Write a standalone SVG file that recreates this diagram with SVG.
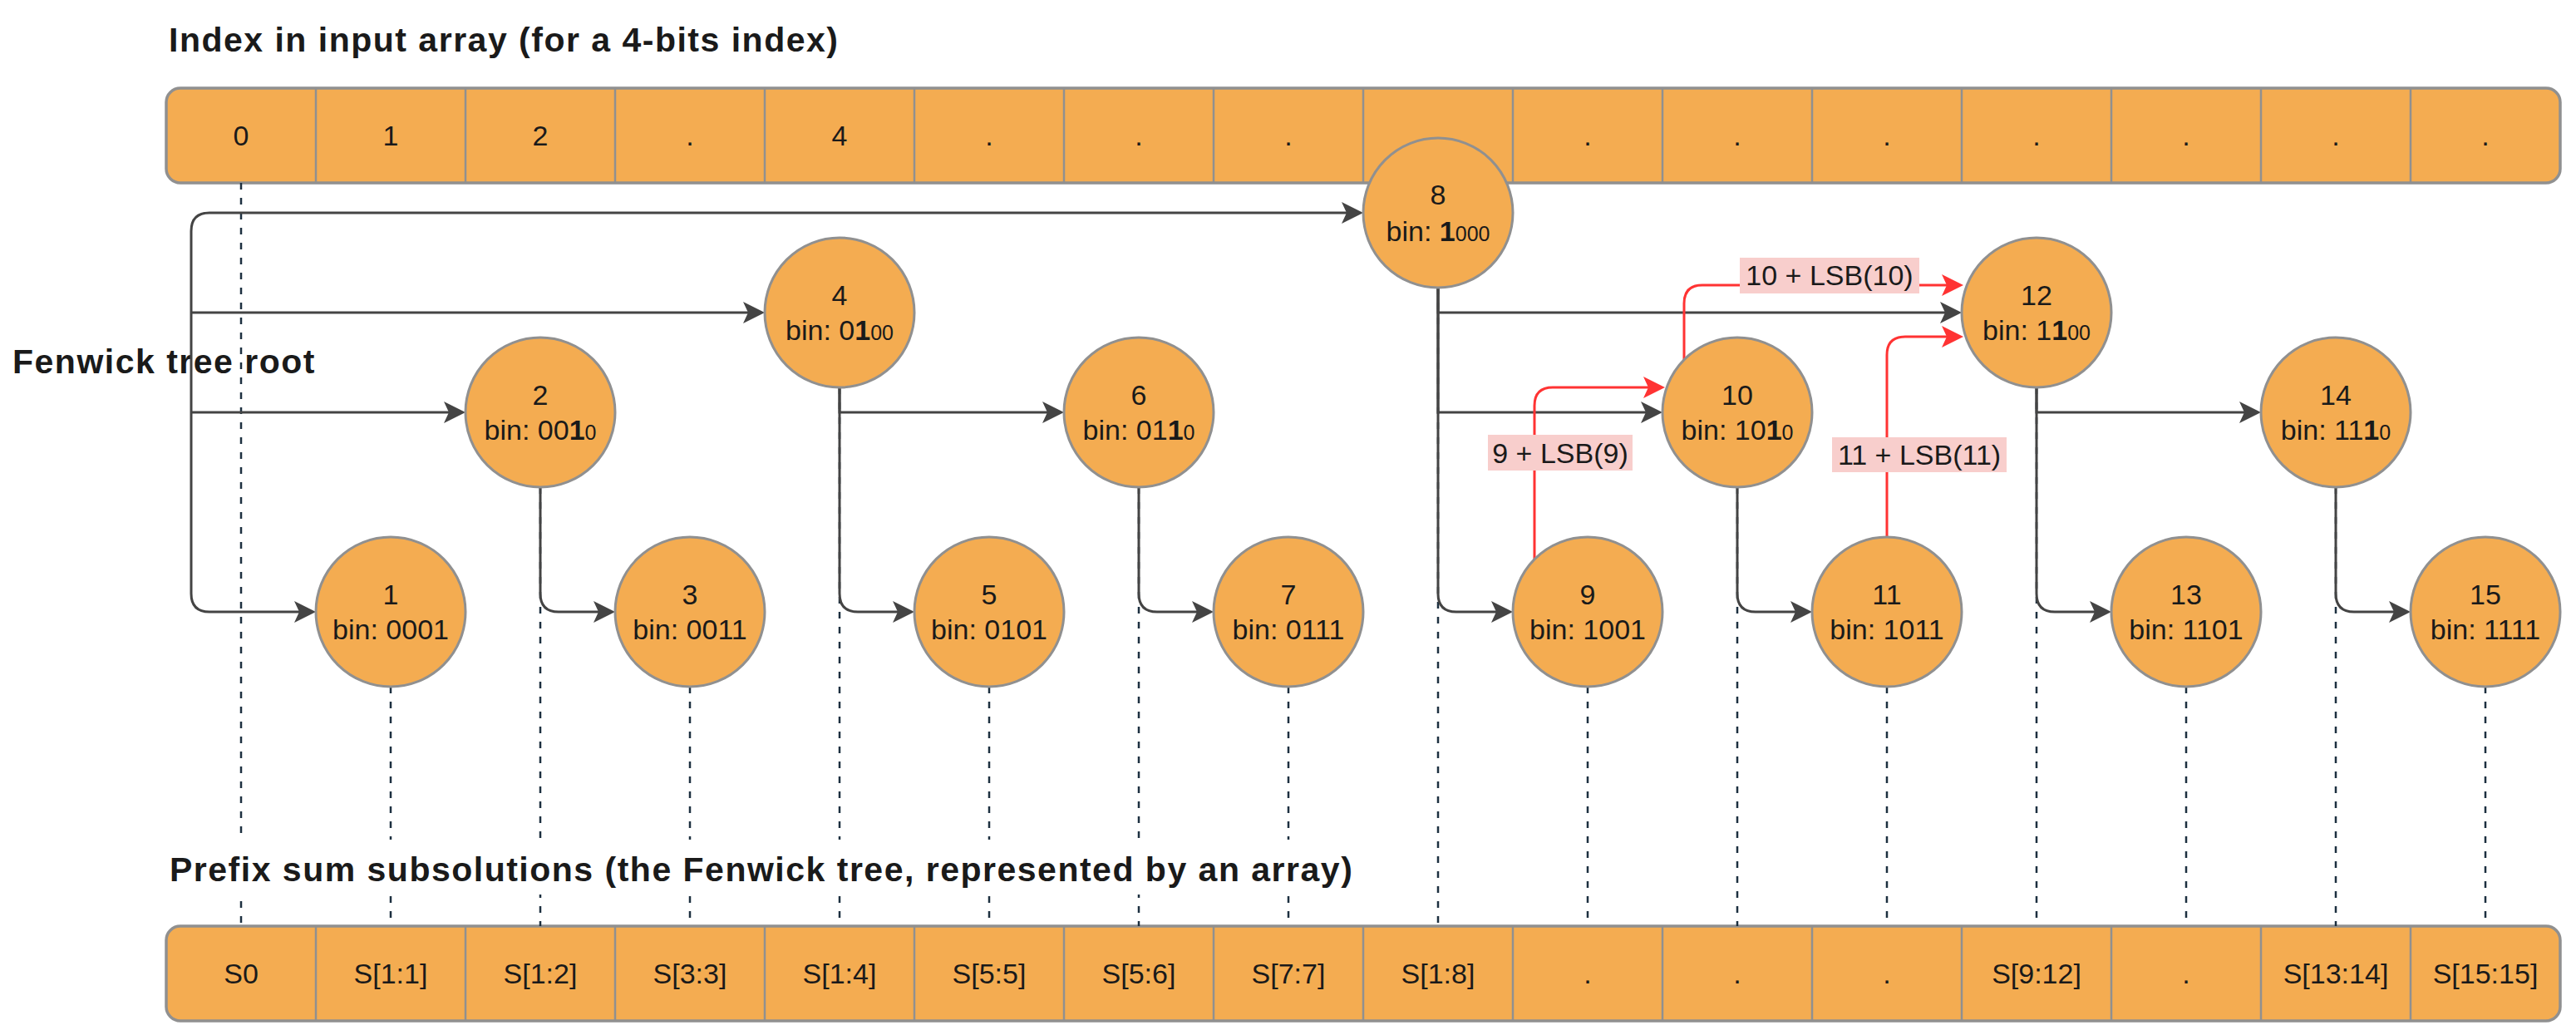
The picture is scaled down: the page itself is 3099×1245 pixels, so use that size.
<svg xmlns="http://www.w3.org/2000/svg" width="3099" height="1245" viewBox="0 0 3099 1245">
<style>
.arr{fill:#F4AC51;stroke:#909090;stroke-width:3.5}
.div{stroke:#909090;stroke-width:2.5}
.node circle{fill:#F4AC51;stroke:#909090;stroke-width:3}
.t{font-family:"Liberation Sans",Arial,sans-serif;font-size:34px;fill:#1a1a1a;text-anchor:middle}
.title{font-family:"Liberation Sans",Arial,sans-serif;font-size:41px;font-weight:bold;fill:#1a1a1a;letter-spacing:1.5px}
.dash{stroke:#1d3040;stroke-width:2.5;stroke-dasharray:8 10;fill:none}
.edge{stroke:#444444;stroke-width:3;fill:none;marker-end:url(#ah)}
.red{stroke:#FF3333;stroke-width:3;fill:none;marker-end:url(#ahr)}
.lbl{fill:#F8CECC}
.sm{font-size:25px}
.b{font-weight:bold}
</style>
<defs>
<marker id="ah" markerUnits="userSpaceOnUse" markerWidth="30" markerHeight="30" viewBox="-8 -15 30 30" refX="0" refY="0" orient="auto"><path d="M20,0 L-6,-13 L0,0 L-6,13 Z" fill="#444444"/></marker>
<marker id="ahr" markerUnits="userSpaceOnUse" markerWidth="30" markerHeight="30" viewBox="-8 -15 30 30" refX="0" refY="0" orient="auto"><path d="M20,0 L-6,-13 L0,0 L-6,13 Z" fill="#FF3333"/></marker>
</defs>
<rect width="3099" height="1245" fill="#ffffff"/>

<text class="title" x="203" y="62">Index in input array (for a 4-bits index)</text>
<text class="title" x="15" y="449">Fenwick tree root</text>

<g id="input-array">
<rect class="arr" x="200" y="106" width="2880" height="114" rx="17"/>
<path class="div" d="M380,106V220M560,106V220M740,106V220M920,106V220M1100,106V220M1280,106V220M1460,106V220M1640,106V220M1820,106V220M2000,106V220M2180,106V220M2360,106V220M2540,106V220M2720,106V220M2900,106V220"/>
<g class="t">
<text x="290" y="175">0</text><text x="470" y="175">1</text><text x="650" y="175">2</text><text x="830" y="175">.</text>
<text x="1010" y="175">4</text><text x="1190" y="175">.</text><text x="1370" y="175">.</text><text x="1550" y="175">.</text>
<text x="1910" y="175">.</text><text x="2090" y="175">.</text><text x="2270" y="175">.</text><text x="2450" y="175">.</text>
<text x="2630" y="175">.</text><text x="2810" y="175">.</text><text x="2990" y="175">.</text>
</g>
</g>

<g id="prefix-array">
<rect class="arr" x="200" y="1114" width="2880" height="114" rx="17"/>
<path class="div" d="M380,1114V1228M560,1114V1228M740,1114V1228M920,1114V1228M1100,1114V1228M1280,1114V1228M1460,1114V1228M1640,1114V1228M1820,1114V1228M2000,1114V1228M2180,1114V1228M2360,1114V1228M2540,1114V1228M2720,1114V1228M2900,1114V1228"/>
<g class="t">
<text x="290" y="1183">S0</text><text x="470" y="1183">S[1:1]</text><text x="650" y="1183">S[1:2]</text><text x="830" y="1183">S[3:3]</text>
<text x="1010" y="1183">S[1:4]</text><text x="1190" y="1183">S[5:5]</text><text x="1370" y="1183">S[5:6]</text><text x="1550" y="1183">S[7:7]</text>
<text x="1730" y="1183">S[1:8]</text><text x="1910" y="1183">.</text><text x="2090" y="1183">.</text><text x="2270" y="1183">.</text>
<text x="2450" y="1183">S[9:12]</text><text x="2630" y="1183">.</text><text x="2810" y="1183">S[13:14]</text><text x="2990" y="1183">S[15:15]</text>
</g>
</g>

<g id="guides">
<path class="dash" d="M290,220V1114M470,826V1114M650,586V1114M830,826V1114M1010,466V1114M1190,826V1114M1370,586V1114M1550,826V1114M1730,346V1114M1910,826V1114M2090,586V1114M2270,826V1114M2450,466V1114M2630,826V1114M2810,586V1114M2990,826V1114"/>
</g>

<g id="prefix-title">
<rect x="200" y="1010" width="1440" height="66" fill="#ffffff"/>
<text class="title" x="204" y="1060">Prefix sum subsolutions (the Fenwick tree, represented by an array)</text>
</g>

<g id="connectors">
<path class="edge" d="M230,278 Q230,256 252,256 L1620,256"/>
<path class="edge" d="M230,376 L900,376"/>
<path class="edge" d="M230,496 L540,496"/>
<path class="edge" d="M230,278 L230,714 Q230,736 252,736 L360,736"/>
<path class="edge" d="M650,586 L650,714 Q650,736 672,736 L720,736"/>
<path class="edge" d="M1010,466 L1010,496 L1260,496"/>
<path class="edge" d="M1010,466 L1010,714 Q1010,736 1032,736 L1080,736"/>
<path class="edge" d="M1370,586 L1370,714 Q1370,736 1392,736 L1440,736"/>
<path class="edge" d="M1730,346 L1730,376 L2340,376"/>
<path class="edge" d="M1730,346 L1730,496 L1980,496"/>
<path class="edge" d="M1730,346 L1730,714 Q1730,736 1752,736 L1800,736"/>
<path class="edge" d="M2090,586 L2090,714 Q2090,736 2112,736 L2160,736"/>
<path class="edge" d="M2450,466 L2450,496 L2700,496"/>
<path class="edge" d="M2450,466 L2450,714 Q2450,736 2472,736 L2520,736"/>
<path class="edge" d="M2810,586 L2810,714 Q2810,736 2832,736 L2880,736"/>
<path class="red" d="M1846,673 L1846,488 Q1846,466 1868,466 L1983,466"/>
<path class="red" d="M2026,433 L2026,365 Q2026,343 2048,343 L2342,343"/>
<path class="red" d="M2270,646 L2270,427 Q2270,405 2292,405 L2342,405"/>
<rect class="lbl" x="1790" y="523" width="174" height="43"/>
<text class="t" x="1877" y="557">9 + LSB(9)</text>
<rect class="lbl" x="2093" y="310" width="216" height="43"/>
<text class="t" x="2201" y="343">10 + LSB(10)</text>
<rect class="lbl" x="2204" y="526" width="210" height="42"/>
<text class="t" x="2309" y="559">11 + LSB(11)</text>
</g>

<g id="node-1" class="node"><circle cx="470" cy="736" r="90"/><text class="t" x="470" y="727">1</text><text class="t" x="470" y="769">bin: 0001</text></g>
<g id="node-2" class="node"><circle cx="650" cy="496" r="90"/><text class="t" x="650" y="487">2</text><text class="t" x="650" y="529">bin: 00<tspan class="b">1</tspan><tspan class="sm">0</tspan></text></g>
<g id="node-3" class="node"><circle cx="830" cy="736" r="90"/><text class="t" x="830" y="727">3</text><text class="t" x="830" y="769">bin: 0011</text></g>
<g id="node-4" class="node"><circle cx="1010" cy="376" r="90"/><text class="t" x="1010" y="367">4</text><text class="t" x="1010" y="409">bin: 0<tspan class="b">1</tspan><tspan class="sm">00</tspan></text></g>
<g id="node-5" class="node"><circle cx="1190" cy="736" r="90"/><text class="t" x="1190" y="727">5</text><text class="t" x="1190" y="769">bin: 0101</text></g>
<g id="node-6" class="node"><circle cx="1370" cy="496" r="90"/><text class="t" x="1370" y="487">6</text><text class="t" x="1370" y="529">bin: 01<tspan class="b">1</tspan><tspan class="sm">0</tspan></text></g>
<g id="node-7" class="node"><circle cx="1550" cy="736" r="90"/><text class="t" x="1550" y="727">7</text><text class="t" x="1550" y="769">bin: 0111</text></g>
<g id="node-8" class="node"><circle cx="1730" cy="256" r="90"/><text class="t" x="1730" y="246">8</text><text class="t" x="1730" y="290">bin: <tspan class="b">1</tspan><tspan class="sm">000</tspan></text></g>
<g id="node-9" class="node"><circle cx="1910" cy="736" r="90"/><text class="t" x="1910" y="727">9</text><text class="t" x="1910" y="769">bin: 1001</text></g>
<g id="node-10" class="node"><circle cx="2090" cy="496" r="90"/><text class="t" x="2090" y="487">10</text><text class="t" x="2090" y="529">bin: 10<tspan class="b">1</tspan><tspan class="sm">0</tspan></text></g>
<g id="node-11" class="node"><circle cx="2270" cy="736" r="90"/><text class="t" x="2270" y="727">11</text><text class="t" x="2270" y="769">bin: 1011</text></g>
<g id="node-12" class="node"><circle cx="2450" cy="376" r="90"/><text class="t" x="2450" y="367">12</text><text class="t" x="2450" y="409">bin: 1<tspan class="b">1</tspan><tspan class="sm">00</tspan></text></g>
<g id="node-13" class="node"><circle cx="2630" cy="736" r="90"/><text class="t" x="2630" y="727">13</text><text class="t" x="2630" y="769">bin: 1101</text></g>
<g id="node-14" class="node"><circle cx="2810" cy="496" r="90"/><text class="t" x="2810" y="487">14</text><text class="t" x="2810" y="529">bin: 11<tspan class="b">1</tspan><tspan class="sm">0</tspan></text></g>
<g id="node-15" class="node"><circle cx="2990" cy="736" r="90"/><text class="t" x="2990" y="727">15</text><text class="t" x="2990" y="769">bin: 1111</text></g>
</svg>
